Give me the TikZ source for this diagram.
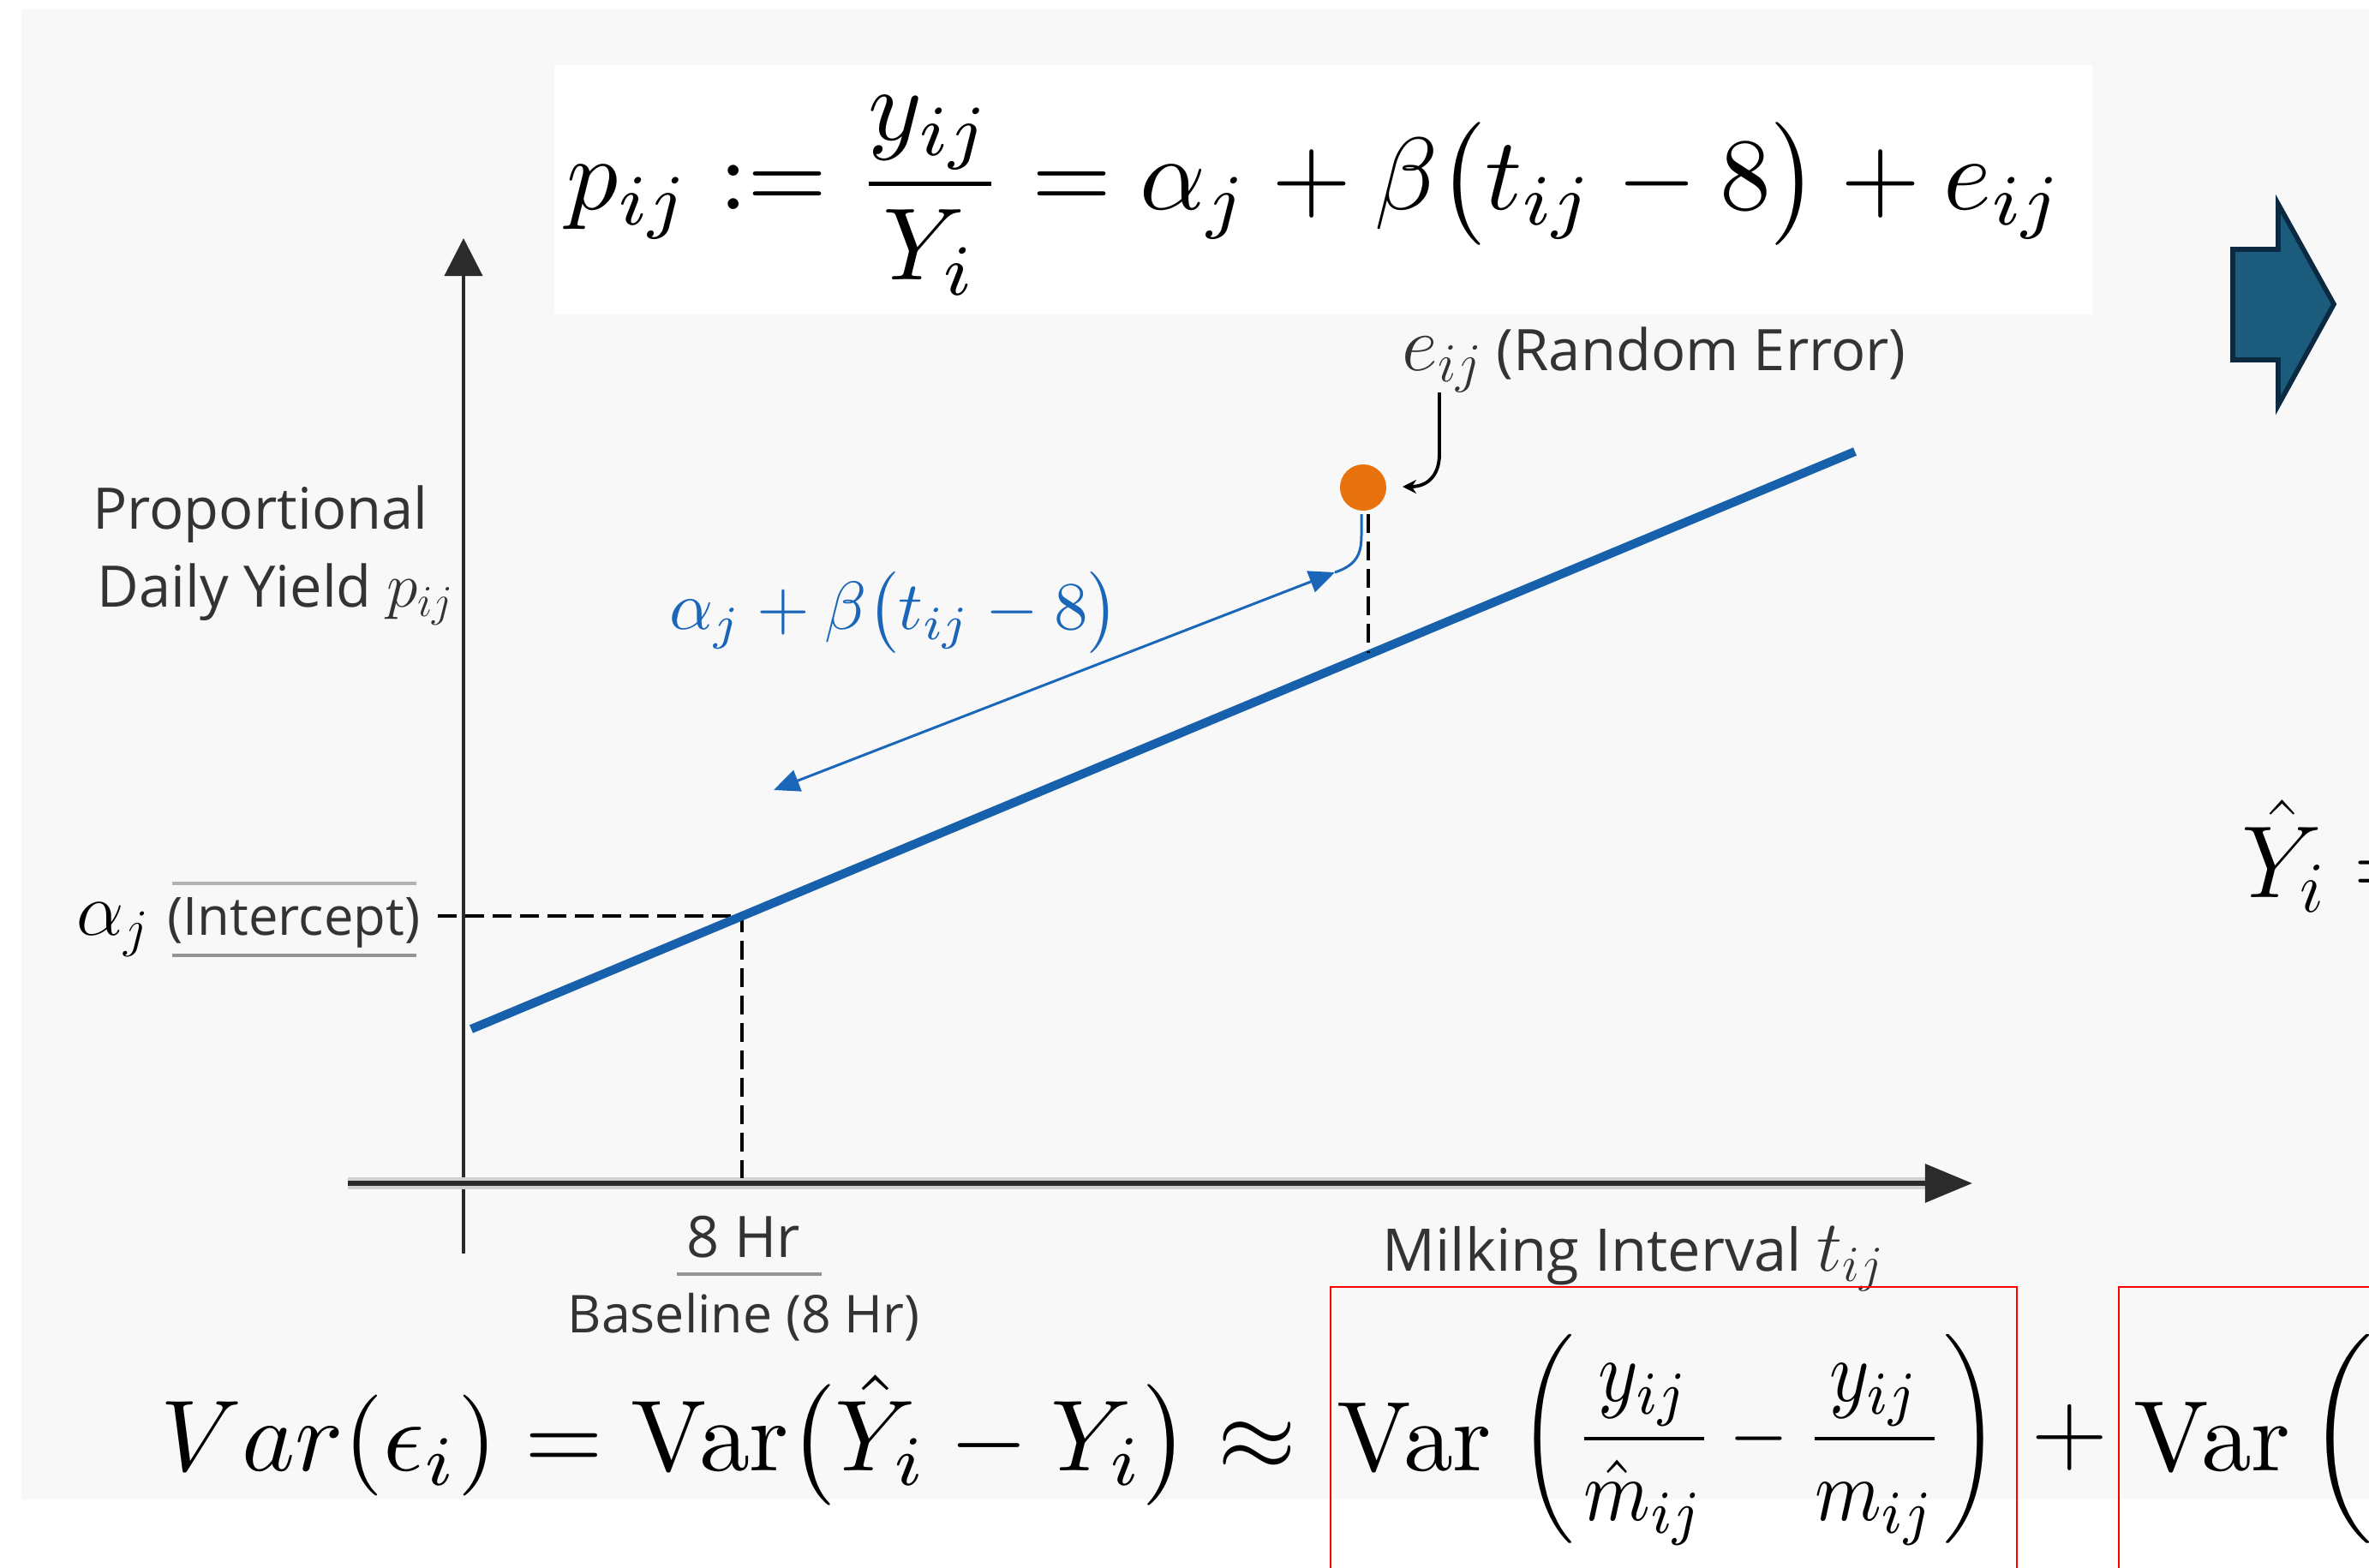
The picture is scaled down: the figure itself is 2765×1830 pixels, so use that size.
\RequirePackage{fix-cm}
\documentclass[tikz,border=0pt]{standalone}
\usepackage{amsmath}
\usepackage{graphicx}
\usepackage[no-math]{fontspec}
\setmainfont{Open Sans}
\usetikzlibrary{arrows.meta}
\definecolor{bggray}{HTML}{F8F8F8}
\definecolor{txtgray}{HTML}{333333}
\definecolor{axisc}{HTML}{2B2B2B}
\definecolor{regblue}{HTML}{1660AC}
\definecolor{lblblue}{HTML}{1A66B8}
\definecolor{dotorange}{HTML}{E8730E}
\definecolor{arrfill}{HTML}{1B5C7D}
\definecolor{arrdraw}{HTML}{0B2A42}
\newcommand\myfs[1]{\fontsize{#1}{#1}\selectfont}
\tikzset{
  lab/.style={inner sep=0pt, text=txtgray},
  axisln/.style={draw=axisc},
  dashln/.style={draw=black, line width=1.1pt, dash pattern=on 0.22cm off 0.1cm},
  regline/.style={draw=regblue, line width=2.9pt},
  bluethin/.style={draw=lblblue, line width=0.85pt},
  redbox/.style={draw=red, line width=0.8pt},
  mathnode/.style={inner sep=0pt}
}
\begin{document}
\begin{tikzpicture}[x=0.01cm,y=-0.01cm]
\useasboundingbox (0,0) rectangle (2765,1830);
\clip (0,0) rectangle (2765,1830);
\fill[white] (0,0) rectangle (2765,1830);
\fill[bggray] (25,11) rectangle (2765,1750);
\fill[white] (647,76) rectangle (2442,367);

% top formula
\node[mathnode, anchor=west] (topf) at (661,228)
  {\resizebox{17.46cm}{!}{$\displaystyle p_{ij} := \frac{y_{ij}}{Y_i} = \alpha_j + \beta\bigl(t_{ij} - 8\bigr) + e_{ij}$}};

% axes
\coordinate (yb) at (541,1463);
\coordinate (yt) at (541,278);
\coordinate (xl) at (406,1381);
\coordinate (xr) at (2302,1381);
\draw[axisln, line width=1.15pt, -{Triangle[length=0.44cm,width=0.44cm]}] (yb) -- (yt);
\draw[draw=black!18, line width=4pt] (xl) -- (2250,1381);
\draw[axisln, line width=1.7pt, -{Triangle[length=0.55cm,width=0.44cm]}] (xl) -- (xr);

% dashed guides
\coordinate (ip) at (866,1069);
\coordinate (ipl) at (511,1069);
\coordinate (ipb) at (866,1375);
\draw[dashln] (ipl) -- (ip) -- (ipb);

% regression line
\coordinate (r0) at (550,1201);
\coordinate (r1) at (2165,527);
\draw[regline] (r0) -- (r1);

% observation dot
\node[circle, fill=dotorange, inner sep=0pt, minimum size=0.54cm] (dot) at (1591,569) {};
\coordinate (dtop) at (1597,600);
\coordinate (foot) at (1597,762);
\draw[dashln, line width=1pt] (dtop) -- (foot);

% blue arrow
\coordinate (ba1) at (903,922);
\coordinate (ba2) at (1558,668);
\coordinate (hk) at (1589,600);
\draw[bluethin, {Triangle[length=0.3cm,width=0.26cm]}-{Triangle[length=0.3cm,width=0.26cm]}] (ba1) -- (ba2);
\draw[bluethin] (ba2) .. controls (1582,660) and (1589,648) .. (1589,625) -- (hk);
\node[mathnode, anchor=west, text=lblblue] (blbl) at (781,715)
  {\resizebox{5.24cm}{!}{$\alpha_j + \beta\bigl(t_{ij} - 8\bigr)$}};

% error label and pointer
\node[lab, anchor=base west] (err) at (1636,432)
  {{\myfs{26}$e_{ij}$}\hspace{0.16cm}{\myfs{19}(Random Error)}};
\coordinate (c1) at (1680,458);
\coordinate (c2) at (1680,530);
\coordinate (c3) at (1637,568);
\draw[black, line width=1.1pt, -{Stealth[length=0.16cm,width=0.16cm]}] (c1) -- (c2) .. controls (1680,556) and (1665,568) .. (c3);

% y label
\node[lab, anchor=base] (prop) at (304,617) {\myfs{19}Proportional};
\node[lab, anchor=base] (daily) at (322,708) {\myfs{19}Daily Yield {\myfs{21}$p_{ij}$}};

% intercept label
\node[lab, anchor=base west, text=black] (alab) at (89,1091) {\myfs{25}$\alpha_j$};
\node[lab, anchor=base east] (intc) at (491,1091) {\myfs{17.5}(Intercept)};
\draw[black!30, line width=1.1pt] (201,1031) -- (486,1031);
\draw[black!42, line width=1.1pt] (201,1115) -- (486,1115);

% x labels
\node[lab, anchor=base] (eight) at (868,1467) {\myfs{19}8 Hr};
\draw[black!42, line width=1.1pt] (790,1487) -- (959,1487);
\node[lab, anchor=base] (basel) at (868,1555) {\myfs{17.3}Baseline (8 Hr)};
\node[lab, anchor=base west] (milk) at (1613,1483) {\myfs{19.5}Milking Interval {\myfs{24}$t_{ij}$}};

% block arrow
\draw[fill=arrfill, draw=arrdraw, line width=1.6pt, line join=miter]
  (2606,291) -- (2659,291) -- (2659,238) -- (2724,355) -- (2659,473) -- (2659,420) -- (2606,420) -- cycle;

% right partial formula
\node[mathnode, anchor=base west] (yhat) at (2616,1047) {\myfs{34}$\hat{Y}_i =$};

% bottom formula
\node[mathnode, anchor=base west] (segA) at (187,1716)
  {\resizebox{13.24cm}{!}{$Var(\epsilon_i) = \mathrm{Var}\bigl(\hat{Y}_i - Y_i\bigr) \approx$}};
\node[mathnode, anchor=base west] (segBvar) at (1560,1716)
  {\resizebox{1.80cm}{!}{$\mathrm{Var}$}};
\node[mathnode, anchor=west] (segBpar) at (1772,1680)
  {\resizebox*{5.61cm}{2.46cm}{$\left(\dfrac{y_{ij}}{\hat{m}_{ij}} - \dfrac{y_{ij}}{m_{ij}}\right)$}};
\node[mathnode] (plus) at (2416,1678) {\myfs{35}$+$};
\node[mathnode, anchor=base west] (segCvar) at (2490,1716)
  {\resizebox{1.82cm}{!}{$\mathrm{Var}$}};
\node[mathnode] (segCpar) at (2738,1680)
  {\resizebox*{!}{2.46cm}{$\left(\vphantom{\dfrac{y_{ij}}{m_{ij}}}\right.$}};
\draw[redbox] (1553,1502) rectangle (2354,1900);
\draw[redbox] (2473,1502) rectangle (2900,1900);
\end{tikzpicture}
\end{document}
